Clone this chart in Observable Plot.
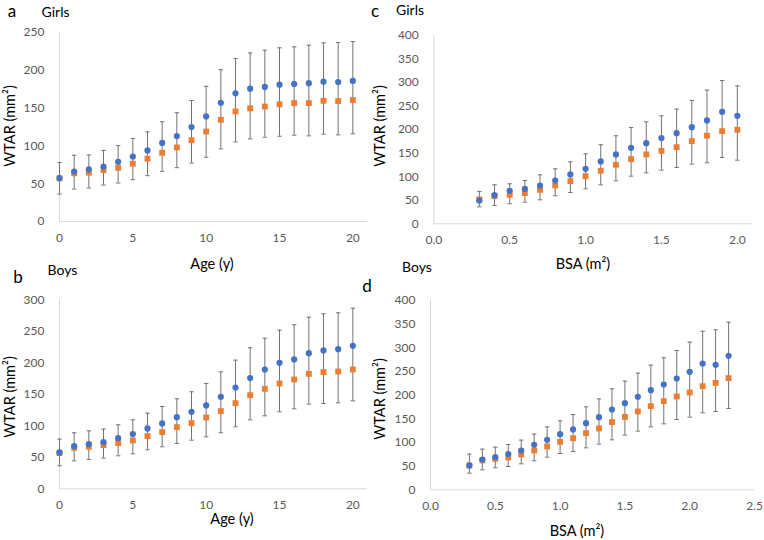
<!DOCTYPE html>
<html>
<head>
<meta charset="utf-8">
<script src="https://cdn.jsdelivr.net/npm/d3@7"></script>
<script src="https://cdn.jsdelivr.net/npm/@observablehq/plot@0.6"></script>
<style>
  body { margin: 0; background: #fff; }
  #root { position: relative; width: 764px; height: 540px; background: #fff; overflow: hidden; font-family: Lato, "Open Sans", sans-serif; }
  .lbl { position: absolute; white-space: nowrap; line-height: 1; transform-origin: center center; }
  .panel { position: absolute; }
</style>
</head>
<body>
<div id="root"></div>
<script>
// ---------- data ----------
const ageX = [0,1,2,3,4,5,6,7,8,9,10,11,12,13,14,15,16,17,18,19,20];

const girlsAgeBlue   = [57.5,66,69,72.6,79,86,94,104,113,125,139,157,169.5,175.7,178,181,182,183,185,184.5,186];
const girlsAgeOrange = [57,63.7,64.6,68,71,76.5,83,91,98,107.5,119,134.5,145.6,149.6,152,155,156.6,156.6,159.7,159.3,160.6];
const girlsAgeHi     = [78,87.6,88,94,100.4,109.7,118.6,131.9,143.8,160,178.8,200.9,215.5,223,226.6,229.7,231,233.2,236.3,236.7,238];
const girlsAgeLo     = [36.3,43,44.3,48.2,50.9,55.3,60.6,66.4,71.2,77.4,85,96,105.3,109.3,111.5,112.8,114.2,113.3,115.5,114.6,116];

const boysAgeBlue    = [57.7,67.7,70.9,74,80.4,86.8,95.8,103.7,113.7,122.2,132.3,146,160.8,175.7,189.4,200,205.3,215.3,219.6,221.7,227];
const boysAgeOrange  = [56.6,65,66.7,69.3,72.5,76.7,83.6,90,97.9,104.2,113.2,123.3,136,148.6,158.7,167.2,173.5,182.5,185.2,186.2,189.4];
const boysAgeHi      = [78.8,88.9,92,94.7,101.6,109.5,120,130.7,142.9,154,167.2,185.7,204.2,223.8,239,251.8,260.3,272.4,277.7,279.3,286.7];
const boysAgeLo      = [36.5,44.4,46.6,48.7,52.4,55.5,61.9,66.7,71.9,77.2,82.5,88.9,98.4,109.5,115.9,122.2,127,134.4,135.4,136.5,139.7];

const girlsBsaX      = [0.3,0.4,0.5,0.6,0.7,0.8,0.9,1.0,1.1,1.2,1.3,1.4,1.5,1.6,1.7,1.8,1.9,2.0];
const girlsBsaBlue   = [49.6,60.9,70,74,81.4,92,104.8,116.8,132.4,147.3,161.4,171.3,182,192.6,205.3,219.5,237.9,229.4];
const girlsBsaOrange = [51.7,58.8,61.6,65.1,72.2,81.4,90.6,101.2,112.6,125.3,137.4,147.3,155,162.8,175.6,187,196.8,199.7];
const girlsBsaHi     = [68.7,82.8,85,92,104,116.8,131.7,148.7,167.8,187,204.6,216.6,229.4,243.6,262,284,304.4,293];
const girlsBsaLo     = [36,39,42.5,46,51,59.5,66.5,74.3,82.8,91.3,101.2,108.3,114,119.7,126.7,129.6,140.9,135.2];

const boysBsaX       = [0.3,0.4,0.5,0.6,0.7,0.8,0.9,1.0,1.1,1.2,1.3,1.4,1.5,1.6,1.7,1.8,1.9,2.0,2.1,2.2,2.3];
const boysBsaBlue    = [51.4,64,69,75.4,83,95,105.6,117.6,127.5,140.8,153.5,169.7,183,196.5,210.6,222.5,235.2,249.3,266.9,264,283];
const boysBsaOrange  = [51.4,62,65.5,68.3,74.6,83,91.5,101.4,109,119.7,129.6,143,154,165.5,176.7,187.3,197.2,205.6,219,226,236];
const boysBsaHi      = [75.4,86,90,95.6,105,117.6,133,145.8,159,175.3,192,213.4,229.6,246.5,263.4,278.9,294.4,312,335,338,354.2];
const boysBsaLo      = [35.2,42.2,46.5,49.3,54.9,61.3,69,76.8,81,88.7,96.5,105.6,115.5,124,133,139.4,148.6,153.5,162.7,165.5,171.8];

const ageTicks = [0,5,10,15,20];
const bsaTicksGirls = [0,0.5,1.0,1.5,2.0];
const bsaTicksBoys = [0,0.5,1.0,1.5,2.0,2.5];

// ---------- drawing ----------
const BLUE = "#4472C4", ORANGE = "#ED7D31", BAR = "#737373", AXIS = "#d9d9d9", TICK = "#595959";
const cap = { draw(ctx, size) { const r = Math.sqrt(size / Math.PI); ctx.moveTo(-r, 0); ctx.lineTo(r, 0); } };

const root = document.getElementById("root");

function panel(cfg) {
  const data = cfg.x.map((x, i) => ({x, blue: cfg.blue[i], orange: cfg.orange[i], hi: cfg.hi[i], lo: cfg.lo[i]}));
  const chart = Plot.plot({
    width: cfg.w, height: cfg.h,
    marginLeft: cfg.ml, marginRight: cfg.mr, marginTop: cfg.mt, marginBottom: cfg.mb,
    style: {background: "transparent", overflow: "visible", fontFamily: "Lato, 'Open Sans', sans-serif", fontSize: "12px"},
    x: {domain: cfg.xDomain},
    y: {domain: cfg.yDomain},
    marks: [
      Plot.ruleY([0], {stroke: AXIS}),
      Plot.ruleX([0], {stroke: AXIS}),
      Plot.axisY({ticks: cfg.yTicks, tickSize: 0, tickPadding: 15, color: TICK, label: null, tickFormat: d3.format("d")}),
      Plot.axisX({ticks: cfg.xTicks, tickSize: 0, tickPadding: 12, color: TICK, label: null, tickFormat: cfg.xFormat}),
      Plot.ruleX(data, {x: "x", y1: "lo", y2: "hi", stroke: BAR, strokeWidth: 1}),
      Plot.dot(data, {x: "x", y: "hi", symbol: cap, r: 2.2, stroke: BAR, fill: "none", strokeWidth: 1}),
      Plot.dot(data, {x: "x", y: "lo", symbol: cap, r: 2.2, stroke: BAR, fill: "none", strokeWidth: 1}),
      Plot.dot(data, {x: "x", y: "orange", symbol: "square", r: 3.3, fill: ORANGE, stroke: "none"}),
      Plot.dot(data, {x: "x", y: "blue", symbol: "circle", r: 3.1, fill: BLUE, stroke: "none"})
    ]
  });
  chart.classList.add("panel");
  chart.style.left = cfg.left + "px";
  chart.style.top = cfg.top + "px";
  root.appendChild(chart);
}

function label(text, x, y, size, opts = {}) {
  const d = document.createElement("div");
  d.className = "lbl";
  d.textContent = text;
  d.style.left = x + "px";
  d.style.top = y + "px";
  d.style.fontSize = size + "px";
  if (opts.lineHeight) d.style.lineHeight = opts.lineHeight;
  d.style.color = opts.color || "#000";
  d.style.transform = "translate(-50%,-50%)" + (opts.rotate ? ` rotate(${opts.rotate}deg)` : "");
  root.appendChild(d);
}

const fmtInt = d3.format("d");
const fmt1 = d3.format(".1f");

panel({left: 0, top: 0, w: 382, h: 250, ml: 59, mr: 15, mt: 32, mb: 29,
  x: ageX, blue: girlsAgeBlue, orange: girlsAgeOrange, hi: girlsAgeHi, lo: girlsAgeLo,
  xDomain: [0, 21], yDomain: [0, 250], xTicks: ageTicks, yTicks: [0,50,100,150,200,250], xFormat: fmtInt});

panel({left: 380, top: 0, w: 384, h: 250, ml: 53.3, mr: 12, mt: 35, mb: 26.7,
  x: girlsBsaX, blue: girlsBsaBlue, orange: girlsBsaOrange, hi: girlsBsaHi, lo: girlsBsaLo,
  xDomain: [0, 2.1], yDomain: [0, 400], xTicks: bsaTicksGirls, yTicks: [0,50,100,150,200,250,300,350,400], xFormat: fmt1});

panel({left: 0, top: 270, w: 382, h: 250, ml: 59, mr: 15, mt: 29.3, mb: 31.7,
  x: ageX, blue: boysAgeBlue, orange: boysAgeOrange, hi: boysAgeHi, lo: boysAgeLo,
  xDomain: [0, 21], yDomain: [0, 300], xTicks: ageTicks, yTicks: [0,50,100,150,200,250,300], xFormat: fmtInt});

panel({left: 380, top: 270, w: 384, h: 250, ml: 50, mr: 10, mt: 30, mb: 30.7,
  x: boysBsaX, blue: boysBsaBlue, orange: boysBsaOrange, hi: boysBsaHi, lo: boysBsaLo,
  xDomain: [0, 2.5], yDomain: [0, 400], xTicks: bsaTicksBoys, yTicks: [0,50,100,150,200,250,300,350,400], xFormat: fmt1});

// panel letters & group titles
label("a", 12, 9.5, 17);
label("Girls", 55.5, 12, 14);
label("c", 375, 10, 17);
label("Girls", 410, 10, 14);
label("b", 18, 276.5, 17, {lineHeight: "0.5"});
label("Boys", 62.5, 270, 14);
label("d", 367, 285.5, 17, {lineHeight: "0.5"});
label("Boys", 417, 267, 14);

// axis titles
label("WTAR (mm²)", 10, 126, 14.5, {rotate: -90});
label("WTAR (mm²)", 380, 126, 14.5, {rotate: -90});
label("WTAR (mm²)", 10, 397, 14.5, {rotate: -90});
label("WTAR (mm²)", 380, 399, 14.5, {rotate: -90});
label("Age (y)", 212, 264, 14.5);
label("BSA (m²)", 583, 264, 14.5);
label("Age (y)", 232, 519, 14.5);
label("BSA (m²)", 577, 531, 14.5);
</script>
</body>
</html>
